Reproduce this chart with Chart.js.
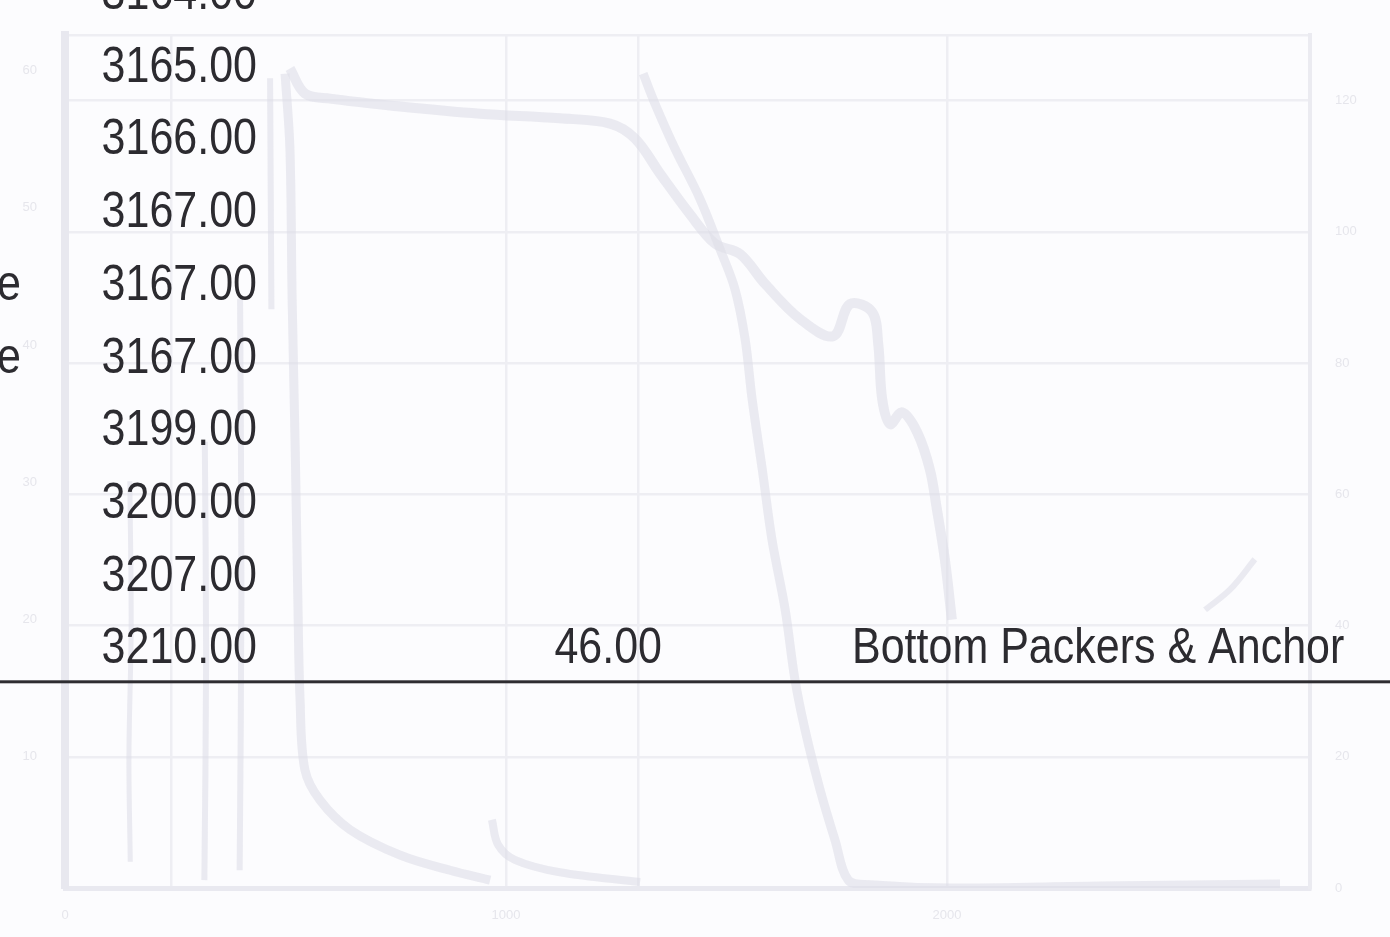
<!DOCTYPE html>
<html lang="en">
<head>
<meta charset="UTF-8">
<title>Completion Depths</title>
<script src="https://cdn.jsdelivr.net/npm/chart.js"></script>
<style>
  html, body { margin: 0; padding: 0; background: #fcfcfe; overflow: hidden; }
  #wrap { width: 1390px; height: 937px; }
</style>
</head>
<body>
<div id="wrap"><canvas id="sheet" width="1390" height="937"></canvas></div>
<script>
// table rows (depths in m), the value column and the description column
var depths = [3164, 3165, 3166, 3167, 3167, 3167, 3199, 3200, 3207, 3210];
var lengths = [null, null, null, null, null, null, null, null, null, 46];
var notes = ['', '', '', '', '', '', '', '', '', 'Bottom Packers & Anchor'];
var cutNames = ['', '', '', '', 'e', 'e', '', '', '', ''];

// faint chart showing through the page
var xGrid = [0, 240, 1000, 1300, 2000, 2823];
var xLabelled = [0, 1000, 2000];
var rightTicks = [0, 20, 40, 60, 80, 100, 120, 130];
var leftTicks = [10, 20, 30, 40, 50, 60];

var curveA_x = [510, 544, 601, 760, 941, 1122, 1236, 1293, 1349, 1417, 1474, 1531, 1587, 1667, 1742, 1780, 1830, 1844, 1853, 1871, 1898, 1932, 1961, 1977, 1995, 2011];
var curveA_y = [124.9, 121.1, 120.3, 119.1, 118.0, 117.3, 116.5, 114.2, 108.9, 102.7, 98.2, 96.6, 92.1, 86.7, 84.1, 89.0, 87.8, 82.9, 74.5, 70.7, 72.5, 69.5, 63.8, 57.7, 50.1, 40.9];
var curveB_x = [1311, 1338, 1383, 1440, 1485, 1519, 1542, 1558, 1581, 1603, 1633, 1655, 1678, 1712, 1746, 1776, 1825, 2007, 2347, 2755];
var curveB_y = [124.1, 119.5, 112.7, 105.0, 97.4, 91.3, 83.7, 74.5, 63.8, 53.1, 42.4, 31.8, 24.1, 15.0, 7.3, 1.2, 0.5, 0.0, 0.3, 0.6];
var curveC_x = [499, 510, 515, 522, 528, 533, 544, 578, 646, 760, 873, 964];
var curveC_y = [124.1, 112.7, 89.8, 66.9, 44.0, 28.7, 18.0, 13.4, 8.9, 5.0, 2.7, 1.2];
var curveD_x = [968, 982, 1020, 1122, 1304];
var curveD_y = [10.4, 6.6, 4.3, 2.4, 0.9];
var curveE_x = [2585, 2642, 2698];
var curveE_y = [42.4, 45.5, 50.1];
var traceL1_x = [147, 150, 145, 148];
var traceL1_y = [62, 40, 20, 4];
var traceL2_x = [317, 320, 316];
var traceL2_y = [68, 35, 1.2];
var traceL3_x = [397, 400, 396];
var traceL3_y = [89.8, 45, 2.7];
var traceL4_x = [465, 468];
var traceL4_y = [123.4, 88.2];

function pts(xs, ys) {
    return xs.map(function (x, i) { return { x: x, y: ys[i] }; });
}

function faint(xs, ys, w) {
    return {
        data: pts(xs, ys),
        showLine: true,
        borderColor: 'rgba(222, 222, 232, 0.6)',
        borderWidth: w,
        pointRadius: 0,
        tension: 0.35,
        xAxisID: 'x',
        yAxisID: 'y'
    };
}

// writes the scanned table on top of the faint chart
var tablePlugin = {
    id: 'tableText',
    afterDatasetsDraw: function (chart) {
        var ctx = chart.ctx;
        var rows = chart.scales.row;
        ctx.save();
        ctx.fillStyle = '#2c2b30';
        ctx.font = '43px "Liberation Sans", Arial, sans-serif';
        ctx.textBaseline = 'alphabetic';

        function put(text, x, y, align) {
            ctx.save();
            ctx.translate(x, y + 18);
            ctx.scale(1, 1.15);
            ctx.textAlign = align;
            ctx.fillText(text, 0, 0);
            ctx.restore();
        }

        for (var i = 0; i < depths.length; i++) {
            var y = rows.getPixelForValue(i);
            put(depths[i].toFixed(2), 257, y, 'right');
            if (lengths[i] !== null) put(lengths[i].toFixed(2), 662, y, 'right');
            if (notes[i]) put(notes[i], 852, y, 'left');
            if (cutNames[i]) put(cutNames[i], 21, y, 'right');
        }

        // table rule under the last row
        var ry = rows.getPixelForValue(depths.length - 0.5);
        ctx.fillStyle = '#2e2d31';
        ctx.fillRect(0, ry - 1.5, chart.width, 3);
        ctx.restore();
    }
};

var faintTick = { color: '#e6e6ec', font: { size: 13, family: 'Arial' } };

new Chart(document.getElementById('sheet').getContext('2d'), {
    type: 'scatter',
    data: {
        datasets: [
            faint(curveA_x, curveA_y, 10),
            faint(curveB_x, curveB_y, 9),
            faint(curveC_x, curveC_y, 9),
            faint(curveD_x, curveD_y, 8),
            faint(curveE_x, curveE_y, 6),
            faint(traceL1_x, traceL1_y, 5),
            faint(traceL2_x, traceL2_y, 6),
            faint(traceL3_x, traceL3_y, 6),
            faint(traceL4_x, traceL4_y, 6)
        ]
    },
    options: {
        responsive: false,
        animation: false,
        layout: { padding: { top: 35, left: 0, right: 0, bottom: 0 } },
        plugins: { legend: { display: false }, tooltip: { enabled: false } },
        scales: {
            x: {
                type: 'linear',
                position: 'bottom',
                min: 0,
                max: 2823,
                afterBuildTicks: function (s) { s.ticks = xGrid.map(function (v) { return { value: v }; }); },
                afterFit: function (s) { s.height = 49; },
                grid: { color: '#eeeef3', lineWidth: 2.5, drawTicks: false },
                border: { color: '#e9e9f0', width: 5 },
                ticks: {
                    color: faintTick.color,
                    font: faintTick.font,
                    padding: 20,
                    maxRotation: 0,
                    callback: function (v) { return xLabelled.indexOf(v) >= 0 ? String(v) : ''; }
                }
            },
            y: {
                type: 'linear',
                position: 'right',
                min: 0,
                max: 130,
                afterBuildTicks: function (s) { s.ticks = rightTicks.map(function (v) { return { value: v }; }); },
                afterFit: function (s) { s.width = 80; },
                grid: { color: '#eeeef3', lineWidth: 2.5, drawTicks: false },
                border: { color: '#ebebf1', width: 4 },
                ticks: {
                    color: faintTick.color,
                    font: faintTick.font,
                    padding: 25,
                    callback: function (v) { return v === 130 ? '' : String(v); }
                }
            },
            yl: {
                type: 'linear',
                position: 'left',
                min: 0.44,
                max: 62.6,
                afterBuildTicks: function (s) { s.ticks = leftTicks.map(function (v) { return { value: v }; }); },
                afterFit: function (s) { s.width = 65; },
                grid: { display: false },
                border: { color: '#e8e8ef', width: 8 },
                ticks: { color: faintTick.color, font: faintTick.font, padding: 20 }
            },
            row: {
                type: 'linear',
                display: false,
                reverse: true,
                min: 0.125,
                max: 11.854
            }
        }
    },
    plugins: [tablePlugin]
});
</script>
</body>
</html>
